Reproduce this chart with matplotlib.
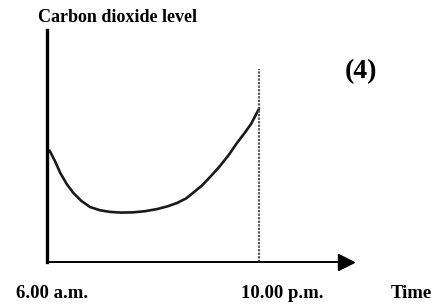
import numpy as np
import matplotlib
matplotlib.use('Agg')
import matplotlib.pyplot as plt

# time of day (hours) and carbon dioxide level (arbitrary units)
hours = [6.0, 6.2, 6.6, 7.0, 7.5, 8.0, 8.6, 9.25, 10.0, 10.75, 11.6, 12.5, 13.4,
         14.3, 15.1, 15.8, 16.5, 17.0, 17.7, 18.3, 19.0, 19.7, 20.3, 20.9, 21.4, 22.0]
co2 = [47.0, 48.0, 43.5, 38.4, 33.5, 29.7, 26.3, 23.7, 22.3, 21.6, 21.3, 21.4, 21.9,
       22.8, 24.0, 25.4, 27.4, 29.7, 33.0, 36.6, 41.0, 46.0, 51.0, 55.5, 59.5, 66.0]
sunset = 22.0
sunset_top = 83.0

W, H = 439, 308
fig = plt.figure(figsize=(W / 100, H / 100), dpi=100)
left, right, bottom, top = 47, 346, 262, 30
ax = fig.add_axes([left / W, 1 - bottom / H, (right - left) / W, (bottom - top) / H])
ax.set_xlim(6, 6 + (right - left) / 13.25)
ax.set_ylim(0, 100)

ax.plot(hours, co2, color='#1a1a1a', lw=1.9, solid_capstyle='round')
ax.plot([sunset, sunset], [0, sunset_top], color='#555555', lw=1.6,
        linestyle=(0, (1, 0.6)))

for s in ['top', 'right']:
    ax.spines[s].set_visible(False)
ax.spines['left'].set_linewidth(2.4)
ax.spines['bottom'].set_linewidth(1.4)
ax.set_xticks([])
ax.set_yticks([])
ax.plot(1, 0, '>k', ms=11, transform=ax.get_yaxis_transform(), clip_on=False)
ax.plot(0, 1, '^k', ms=10, transform=ax.get_xaxis_transform(), clip_on=False)

serif = ['Liberation Serif', 'DejaVu Serif']
fig.text(118 / W, 1 - 18 / H, 'Carbon dioxide level', family=serif, fontsize=13,
         weight='bold', ha='center', va='center')
fig.text(361 / W, 1 - 72 / H, '(4)', family=serif, fontsize=20, weight='bold',
         ha='center', va='center')
fig.text(52 / W, 1 - 293 / H, '6.00 a.m.', family=serif, fontsize=13.5,
         weight='bold', ha='center', va='center')
fig.text(282 / W, 1 - 293 / H, '10.00 p.m.', family=serif, fontsize=13.5, weight='bold',
         ha='center', va='center')
fig.text(411 / W, 1 - 293 / H, 'Time', family=serif, fontsize=13.5, weight='bold',
         ha='center', va='center')

fig.savefig('out.png', dpi=100)
